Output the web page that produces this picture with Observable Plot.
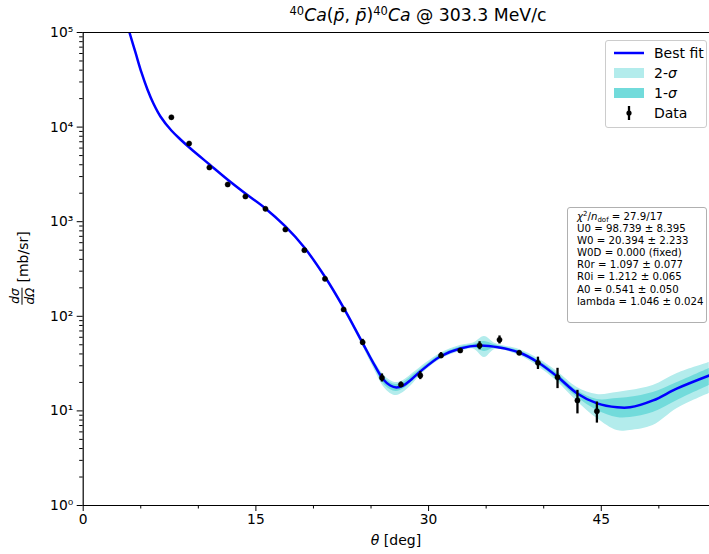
<!DOCTYPE html>
<html>
<head>
<meta charset="utf-8">
<script src="https://cdn.jsdelivr.net/npm/d3@7"></script>
<script src="https://cdn.jsdelivr.net/npm/@observablehq/plot@0.6"></script>
<style>
  body { margin: 0; background: white; }
  #wrap { position: relative; width: 709px; height: 554px; font-family: "DejaVu Sans", sans-serif; color: black; overflow: hidden; }
  #wrap svg { position: absolute; left: 0; top: 0; }
  .title { position: absolute; left: 418px; top: 5px; transform: translateX(-50%); font-size: 17.3px; white-space: nowrap; }
  .title sup { font-size: 11.5px; vertical-align: 6px; line-height: 0; }
  .xlabel { position: absolute; left: 396px; top: 532px; transform: translateX(-50%); font-size: 14px; white-space: nowrap; }
  .ylabel { position: absolute; left: 22px; top: 268px; transform: translate(-50%, -50%) rotate(-90deg); font-size: 14px; white-space: nowrap; display: flex; align-items: center; gap: 5px; }
  .frac { display: inline-flex; flex-direction: column; align-items: center; font-size: 12px; line-height: 12px; font-style: italic; }
  .frac span:first-child { border-bottom: 1px solid black; padding: 0 1px 1px; }
  .frac span:last-child { padding-top: 1px; }
  .legend { position: absolute; left: 605px; top: 40px; width: 100px; height: 86px; border: 1px solid #cccccc; border-radius: 3px; background: rgba(255,255,255,0.8); font-size: 14px; }
  .legend .row { position: absolute; left: 0; height: 20px; width: 100%; }
  .legend .lab { position: absolute; left: 48px; top: 50%; transform: translateY(-50%); white-space: nowrap; }
  .stats { position: absolute; left: 567px; top: 207px; width: 140px; height: 116px; border: 1px solid #b0b0b0; border-radius: 3px; background: white; font-size: 10.2px; line-height: 12.1px; padding: 3px 0 0 9px; box-sizing: border-box; white-space: nowrap; }
  .stats sub { font-size: 7px; vertical-align: -2px; line-height: 0; }
  .stats sup { font-size: 7px; vertical-align: 4px; line-height: 0; }
</style>
</head>
<body>
<div id="wrap"></div>
<script>
// ---- measured data points ----
const dataTheta = [7.66, 9.2, 10.96, 12.55, 14.09, 15.83, 17.56, 19.21, 21.0, 22.62, 24.27, 25.95, 27.6, 29.28, 31.08, 32.75, 34.43, 36.16, 37.87, 39.5, 41.2, 42.93, 44.62];
const dataValue = [12700, 6710, 3740, 2474, 1847, 1369, 827, 500, 249, 118, 53.2, 22.4, 19.0, 23.7, 38.5, 43.5, 49.1, 56.5, 41.1, 32.2, 22.7, 12.9, 9.93];
const dataErr   = [450, 260, 140, 100, 70, 50, 30, 18, 9, 5, 3.9, 2.2, 1.2, 2.3, 2.8, 2.0, 4.8, 5.5, 2.0, 4.8, 5.5, 3.6, 2.5];

// ---- best fit curve ----
const fitTheta = [3.76, 4.02, 4.54, 5.06, 5.58, 6.10, 6.71, 7.66, 8.45, 9.32, 10.97, 12.53, 14.09, 15.83, 17.56, 19.21, 21.04, 22.6, 24.25, 25.37, 26.07, 26.67, 27.2, 27.8, 28.5, 29.28, 31.02, 32.75, 34.4, 36.13, 37.88, 39.52, 41.17, 42.91, 44.64, 46.38, 47.5, 49.5, 51.6, 54.38];
const fitValue = [128000, 100000, 61500, 37800, 24950, 17750, 12950, 9200, 7400, 5940, 4025, 2793, 1986, 1380, 890, 533, 257, 124, 52.8, 29.5, 21.5, 18.55, 17.7, 18.55, 21.5, 26.1, 37.6, 45.7, 49.1, 46.8, 41.4, 32.5, 23.1, 15.3, 12.0, 10.9, 10.9, 12.9, 17.3, 23.7];

// ---- uncertainty bands ----
const bandTheta = [20.0, 21.04, 22.6, 24.25, 25.37, 26.07, 26.67, 27.2, 27.8, 28.5, 29.28, 31.02, 32.75, 33.9, 34.85, 35.8, 37.88, 39.52, 41.17, 42.91, 44.64, 46.38, 47.5, 49.5, 51.6, 54.38];
const band2Hi = [398, 267, 130, 56.9, 32.5, 24.3, 21.0, 19.96, 21.0, 24.3, 28.8, 40.4, 49.1, 52.2, 61.2, 51.6, 44.6, 35.8, 26.1, 17.7, 14.9, 15.65, 16.4, 18.55, 24.9, 32.5];
const band2Lo = [380, 248, 118, 49.1, 26.1, 18.1, 15.3, 14.55, 15.65, 18.55, 23.7, 34.9, 42.5, 45.1, 36.7, 44.6, 38.5, 29.5, 20.5, 12.6, 8.31, 6.21, 6.21, 7.01, 10.6, 15.3];
const band1Hi = [394, 262, 127, 54.8, 31.3, 23.1, 19.96, 19.0, 19.96, 23.1, 27.4, 39.0, 47.4, 50.3, 54.2, 49.7, 43.0, 34.1, 24.9, 16.4, 13.2, 13.5, 13.9, 15.65, 19.96, 28.1];
const band1Lo = [384, 252, 121, 50.9, 27.7, 19.5, 16.8, 16.0, 17.0, 19.96, 24.9, 36.2, 44.0, 46.8, 42.5, 46.2, 39.9, 30.9, 21.5, 13.9, 10.1, 8.52, 8.52, 9.62, 12.9, 18.55];

// ---- ticks ----
const yTickValues = [1, 10, 100, 1000, 10000, 100000];
const yTickLabels = ["10\u2070", "10\u00B9", "10\u00B2", "10\u00B3", "10\u2074", "10\u2075"];
const yMinorTicks = [2,3,4,5,6,7,8,9,20,30,40,50,60,70,80,90,200,300,400,500,600,700,800,900,2000,3000,4000,5000,6000,7000,8000,9000,20000,30000,40000,50000,60000,70000,80000,90000];
const xTickValues = [0, 15, 30, 45];
const xMinorTicks = [5, 10, 20, 25, 35, 40, 50];

const dataRows = dataTheta.map((t, i) => ({theta: t, v: dataValue[i], lo: dataValue[i] - dataErr[i], hi: dataValue[i] + dataErr[i]}));
const fitRows = fitTheta.map((t, i) => ({theta: t, v: fitValue[i]}));
const bandRows = bandTheta.map((t, i) => ({theta: t, lo2: band2Lo[i], hi2: band2Hi[i], lo1: band1Lo[i], hi1: band1Hi[i]}));

const chart = Plot.plot({
  width: 709,
  height: 554,
  marginLeft: 82.7,
  marginRight: 0,
  marginTop: 32,
  marginBottom: 49,
  style: {fontFamily: "DejaVu Sans", fontSize: "13.8px", color: "black", background: "white"},
  x: {domain: [0, 54.4], label: null},
  y: {type: "log", domain: [1, 100000], label: null},
  marks: [
    Plot.areaY(bandRows, {x: "theta", y1: "lo2", y2: "hi2", fill: "#b3ecec", curve: "catmull-rom"}),
    Plot.areaY(bandRows, {x: "theta", y1: "lo1", y2: "hi1", fill: "#72dbdb", curve: "catmull-rom"}),
    Plot.line(fitRows, {x: "theta", y: "v", stroke: "#0000ff", strokeWidth: 2.5, curve: "catmull-rom", clip: true}),
    Plot.ruleX(dataRows, {x: "theta", y1: "lo", y2: "hi", stroke: "black", strokeWidth: 2.3}),
    Plot.dot(dataRows, {x: "theta", y: "v", r: 2.6, fill: "black", stroke: "black", strokeWidth: 0.5}),
    Plot.axisY({ticks: yTickValues, tickFormat: d => yTickLabels[yTickValues.indexOf(d)], tickSize: 6, tickPadding: 4, label: null}),
    Plot.axisY({ticks: yMinorTicks, tickFormat: () => "", tickSize: 3.5, label: null}),
    Plot.axisX({ticks: xTickValues, tickFormat: d => String(d), tickSize: 6, tickPadding: 3, label: null}),
    Plot.axisX({ticks: xMinorTicks, tickFormat: () => "", tickSize: 3.5, label: null}),
    Plot.ruleX([0], {stroke: "black", strokeWidth: 1.2}),
    Plot.ruleY([1, 100000], {stroke: "black", strokeWidth: 1.2})
  ]
});

const wrap = document.getElementById("wrap");
wrap.appendChild(chart);

wrap.insertAdjacentHTML("beforeend", `
  <div class="title"><sup>40</sup><i>Ca</i>(<i>p&#772;</i>, <i>p&#772;</i>)<sup>40</sup><i>Ca</i> @ 303.3 MeV/c</div>
  <div class="xlabel"><i>&theta;</i> [deg]</div>
  <div class="ylabel"><span class="frac"><span>d&sigma;</span><span>d&Omega;</span></span><span>[mb/sr]</span></div>
  <div class="legend">
    <div class="row" style="top:2px"><svg width="40" height="20" style="position:absolute;left:7px;top:0"><line x1="1" x2="31" y1="10" y2="10" stroke="#0000ff" stroke-width="2.5"/></svg><span class="lab">Best fit</span></div>
    <div class="row" style="top:22px"><svg width="40" height="20" style="position:absolute;left:7px;top:0"><rect x="1" y="5" width="30" height="10" fill="#b3ecec"/></svg><span class="lab">2-<i>&sigma;</i></span></div>
    <div class="row" style="top:42px"><svg width="40" height="20" style="position:absolute;left:7px;top:0"><rect x="1" y="5" width="30" height="10" fill="#72dbdb"/></svg><span class="lab">1-<i>&sigma;</i></span></div>
    <div class="row" style="top:62px"><svg width="40" height="20" style="position:absolute;left:7px;top:0"><line x1="16" x2="16" y1="3" y2="17" stroke="black" stroke-width="2.3"/><circle cx="16" cy="10" r="2.6" fill="black"/></svg><span class="lab">Data</span></div>
  </div>
  <div class="stats">
    <div><i>&chi;</i><sup>2</sup>/<i>n</i><sub>dof</sub> = 27.9/17</div>
    <div>U0 = 98.739 &plusmn; 8.395</div>
    <div>W0 = 20.394 &plusmn; 2.233</div>
    <div>W0D = 0.000 (fixed)</div>
    <div>R0r = 1.097 &plusmn; 0.077</div>
    <div>R0i = 1.212 &plusmn; 0.065</div>
    <div>A0 = 0.541 &plusmn; 0.050</div>
    <div>lambda = 1.046 &plusmn; 0.024</div>
  </div>
`);
</script>
</body>
</html>
